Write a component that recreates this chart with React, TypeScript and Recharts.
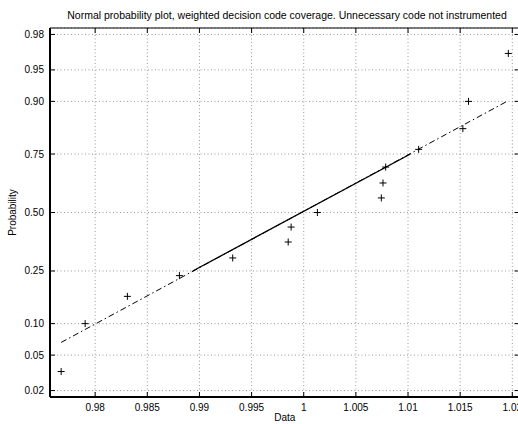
import React from 'react';
import { ScatterChart, Scatter, XAxis, YAxis, CartesianGrid, ReferenceLine } from 'recharts';

// ---- data ----
const dataValues = [0.97674, 0.97904, 0.98309, 0.98808, 0.99319, 0.99851, 0.99879, 1.00131, 1.00744, 1.0076, 1.00786, 1.01102, 1.01526, 1.0158, 1.01962];
const dataProbs = [0.0333, 0.1, 0.1667, 0.2333, 0.3, 0.3667, 0.4333, 0.5, 0.5667, 0.6333, 0.7, 0.7667, 0.8333, 0.9, 0.9667];
const fitDashX = [0.97674, 1.01962];
const fitDashP = [0.067, 0.9015];
const fitSolidX = [0.98936, 1.01023];
const fitSolidP = [0.25, 0.75];
const xTicks = [0.98, 0.985, 0.99, 0.995, 1, 1.005, 1.01, 1.015, 1.02];
const probTicks = [0.02, 0.05, 0.1, 0.25, 0.5, 0.75, 0.9, 0.95, 0.98];
const probTickLabels = ['0.02', '0.05', '0.10', '0.25', '0.50', '0.75', '0.90', '0.95', '0.98'];
const xDomain = [0.97567, 1.02069];
const probLimits = [0.016667, 0.983333];

// inverse normal CDF (Acklam) -> normal probability scale
function norminv(p: number): number {
  const a = [-3.969683028665376e1, 2.209460984245205e2, -2.759285104469687e2, 1.38357751867269e2, -3.066479806614716e1, 2.506628277459239];
  const b = [-5.447609879822406e1, 1.615858368580409e2, -1.556989798598866e2, 6.680131188771972e1, -1.328068155288572e1];
  const c = [-7.784894002430293e-3, -3.223964580411365e-1, -2.400758277161838, -2.549732539343734, 4.374664141464968, 2.938163982698783];
  const d = [7.784695709041462e-3, 3.224671290700398e-1, 2.445134137142996, 3.754408661907416];
  const pl = 0.02425;
  if (p < pl) {
    const q = Math.sqrt(-2 * Math.log(p));
    return (((((c[0] * q + c[1]) * q + c[2]) * q + c[3]) * q + c[4]) * q + c[5]) / ((((d[0] * q + d[1]) * q + d[2]) * q + d[3]) * q + 1);
  }
  if (p > 1 - pl) {
    const q = Math.sqrt(-2 * Math.log(1 - p));
    return -(((((c[0] * q + c[1]) * q + c[2]) * q + c[3]) * q + c[4]) * q + c[5]) / ((((d[0] * q + d[1]) * q + d[2]) * q + d[3]) * q + 1);
  }
  const q = p - 0.5;
  const r = q * q;
  return ((((((a[0] * r + a[1]) * r + a[2]) * r + a[3]) * r + a[4]) * r + a[5]) * q) / (((((b[0] * r + b[1]) * r + b[2]) * r + b[3]) * r + b[4]) * r + 1);
}

const points = dataValues.map((x, i) => ({ x, z: norminv(dataProbs[i]) }));
const dashLine = fitDashX.map((x, i) => ({ x, z: norminv(fitDashP[i]) }));
const solidLine = fitSolidX.map((x, i) => ({ x, z: norminv(fitSolidP[i]) }));
const yTicks = probTicks.map(norminv);
const yDomain = [norminv(probLimits[0]), norminv(probLimits[1])];

const FONT = '"Liberation Sans", Arial, Helvetica, sans-serif';
const W = 560;
const H = 424;
const LEFT = 50;
const RIGHT = 519.5;
const TOP = 28;
const BOTTOM = 397;

const PlusShape = (props: any) => {
  const { cx, cy } = props;
  if (cx == null || cy == null) return null;
  const s = 3.5;
  return (
    <g>
      <line x1={cx - s} x2={cx + s} y1={cy} y2={cy} stroke="#000" strokeWidth={1} />
      <line x1={cx} x2={cx} y1={cy - s} y2={cy + s} stroke="#000" strokeWidth={1} />
    </g>
  );
};

const NoShape = () => <g />;

const XTick = (props: any) => {
  const { x, payload } = props;
  const v = payload.value as number;
  const label = String(Number(v.toFixed(3)));
  return (
    <g>
      <line x1={x} x2={x} y1={BOTTOM} y2={BOTTOM - 5} stroke="#000" strokeWidth={1} />
      <line x1={x} x2={x} y1={TOP} y2={TOP + 5} stroke="#000" strokeWidth={1} />
      <text x={x} y={BOTTOM + 14} textAnchor="middle" fontSize={10} fontFamily={FONT} fill="#000">
        {label}
      </text>
    </g>
  );
};

const YTick = (props: any) => {
  const { y, index } = props;
  return (
    <g>
      <line x1={LEFT} x2={LEFT + 5} y1={y} y2={y} stroke="#000" strokeWidth={1} />
      <line x1={RIGHT} x2={RIGHT - 5} y1={y} y2={y} stroke="#000" strokeWidth={1} />
      <text x={LEFT - 6} y={y + 3.5} textAnchor="end" fontSize={10} fontFamily={FONT} fill="#000">
        {probTickLabels[index]}
      </text>
    </g>
  );
};

export default function App() {
  return (
    <div style={{ position: 'absolute', left: 0, top: 0, width: 518, height: 424, overflow: 'hidden', background: '#fff' }}>
      <ScatterChart
        width={W}
        height={H}
        margin={{ top: TOP, left: LEFT - 42, right: W - RIGHT, bottom: 0 }}
      >
        <CartesianGrid stroke="#999" strokeDasharray="1 2.5" strokeWidth={1} />
        <XAxis
          type="number"
          dataKey="x"
          domain={xDomain}
          ticks={xTicks}
          allowDataOverflow
          height={H - BOTTOM}
          axisLine={{ stroke: '#000', strokeWidth: 2 }}
          tickLine={false}
          tick={<XTick />}
          interval={0}
        />
        <YAxis
          type="number"
          dataKey="z"
          domain={yDomain}
          ticks={yTicks}
          allowDataOverflow
          width={42}
          axisLine={{ stroke: '#000', strokeWidth: 2 }}
          tickLine={false}
          tick={<YTick />}
          interval={0}
        />
        <ReferenceLine y={yDomain[1]} stroke="#000" strokeWidth={1} />
        <Scatter
          data={dashLine}
          isAnimationActive={false}
          shape={<NoShape />}
          line={{ stroke: '#000', strokeWidth: 1, strokeDasharray: '6 3 1.5 3' }}
        />
        <Scatter
          data={solidLine}
          isAnimationActive={false}
          shape={<NoShape />}
          line={{ stroke: '#000', strokeWidth: 1.3 }}
        />
        <Scatter data={points} isAnimationActive={false} shape={<PlusShape />} />
        <text x={287} y={19} textAnchor="middle" fontSize={10.5} fontFamily={FONT} fill="#000">
          Normal probability plot, weighted decision code coverage. Unnecessary code not instrumented
        </text>
        <text x={(LEFT + RIGHT) / 2} y={421} textAnchor="middle" fontSize={10} fontFamily={FONT} fill="#000">
          Data
        </text>
        <text
          x={16}
          y={(TOP + BOTTOM) / 2}
          textAnchor="middle"
          fontSize={10}
          fontFamily={FONT}
          fill="#000"
          transform={`rotate(-90 16 ${(TOP + BOTTOM) / 2})`}
        >
          Probability
        </text>
      </ScatterChart>
    </div>
  );
}
